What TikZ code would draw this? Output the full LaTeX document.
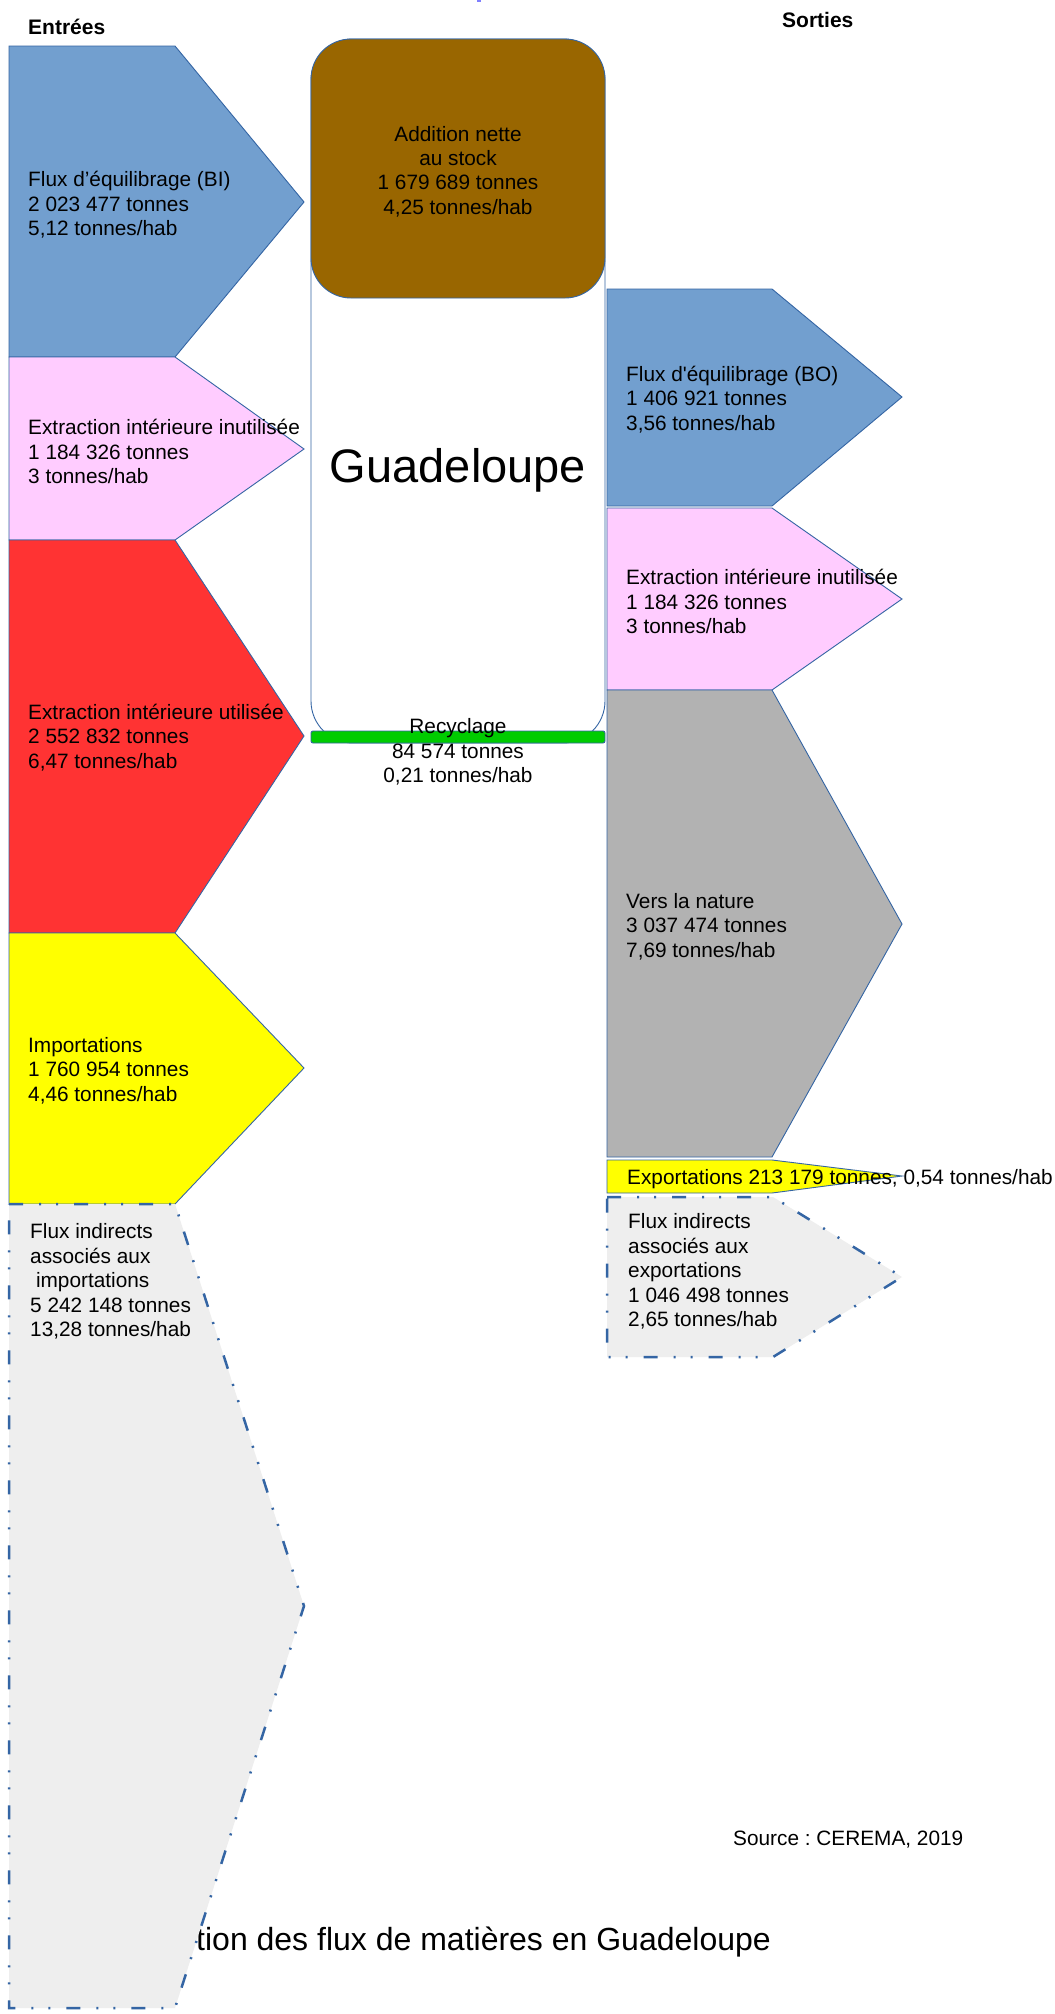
\documentclass[tikz,border=0pt]{standalone}
\usepackage{fontspec}
\setmainfont{Liberation Sans}
\newfontfamily\plainfont{Liberation Sans}
\frenchspacing
\definecolor{outl}{HTML}{3465A4}
\definecolor{flublue}{HTML}{729FCF}
\definecolor{flupink}{HTML}{FFCCFF}
\definecolor{flured}{HTML}{FF3333}
\definecolor{fluyel}{HTML}{FFFF00}
\definecolor{flugrey}{HTML}{B2B2B2}
\definecolor{indgrey}{HTML}{EEEEEE}
\definecolor{stockbrown}{HTML}{996600}
\definecolor{recgreen}{HTML}{00CC00}
\definecolor{topmark}{HTML}{7F7FFF}
\begin{document}
\frenchspacing
\begin{tikzpicture}[x=1pt,y=-1pt,
  shp/.style={draw=outl,line width=0.9pt,line join=miter},
  ind/.style={draw=outl,fill=indgrey,line width=2.5pt,
    dash pattern=on 14pt off 16pt on 2pt off 15pt on 2pt off 16pt},
  lbl/.style={anchor=west,align=left,inner sep=0pt,font=\fontsize{20.8}{24.4}\selectfont\frenchspacing},
  clbl/.style={align=center,inner sep=0pt,font=\fontsize{20.8}{24.4}\selectfont\frenchspacing},
  hdr/.style={anchor=west,inner sep=0pt,font=\fontsize{21}{25}\selectfont\bfseries},
]
\useasboundingbox (0,0) rectangle (1055,2014);
\fill[white] (0,0) rectangle (1055,2014);
\fill[topmark] (477,0) rectangle (481,1.5);

% title (partly hidden by the grey shape)
\node[anchor=east,inner sep=0pt,font=\fontsize{32}{38}\selectfont] (title) at (771,1942)
  {tion des flux de matières en Guadeloupe};

% ---------- inputs ----------
\path[shp,fill=flublue] (9,46) -- (175,46) -- (304,202) -- (175,357) -- (9,357) -- cycle;
\path[shp,fill=flupink] (9,357) -- (175,357) -- (304,449) -- (175,540) -- (9,540) -- cycle;
\path[shp,fill=flured] (9,540) -- (175,540) -- (304,736) -- (175,933) -- (9,933) -- cycle;
\path[shp,fill=fluyel] (9,933) -- (175,933) -- (304,1068) -- (175,1204) -- (9,1204) -- cycle;
\path[ind] (9,1204) -- (175,1204) -- (304,1606) -- (175,2008) -- (9,2008) -- cycle;

% ---------- centre ----------
\path[shp,fill=white,rounded corners=42pt] (311,39) rectangle (605,743);
\path[shp,fill=stockbrown,rounded corners=40pt] (311,39) rectangle (605,298);
\path[shp,fill=recgreen,rounded corners=2pt] (311,731) rectangle (605,743);

% ---------- outputs ----------
\path[shp,fill=flublue] (607,289) -- (772,289) -- (902,397) -- (772,506) -- (607,506) -- cycle;
\path[shp,fill=flupink] (607,508) -- (772,508) -- (902,599) -- (772,690) -- (607,690) -- cycle;
\path[shp,fill=flugrey] (607,690) -- (772,690) -- (902,924) -- (772,1157) -- (607,1157) -- cycle;
\path[shp,fill=fluyel] (607,1160) -- (772,1160) -- (902,1176) -- (772,1193) -- (607,1193) -- cycle;
\path[ind] (607,1197) -- (773,1197) -- (902,1277) -- (773,1357) -- (607,1357) -- cycle;

% ---------- texts ----------
\node[hdr] (entrees) at (28,27) {Entrées};
\node[hdr] (sorties) at (782,20) {Sorties};

\node[lbl] (tBI) at (28,205) {Flux d’équilibrage (BI)\\2 023 477 tonnes\\5,12 tonnes/hab};
\node[lbl] (tEIIin) at (28,451.5) {Extraction intérieure inutilisée\\1 184 326 tonnes\\3 tonnes/hab};
\node[lbl] (tEIU) at (28,737.5) {Extraction intérieure utilisée\\2 552 832 tonnes\\6,47 tonnes/hab};
\node[lbl] (tImp) at (28,1070.5) {Importations\\1 760 954 tonnes\\4,46 tonnes/hab};
\node[lbl] (tIndImp) at (30,1281.5) {Flux indirects\\associés aux\\\hspace*{0.28em}importations\\5 242 148 tonnes\\13,28 tonnes/hab};

\node[clbl] (tStock) at (458,171.5) {Addition nette\\au stock\\1 679 689 tonnes\\4,25 tonnes/hab};
\node[inner sep=0pt,font=\fontsize{47}{56}\selectfont] (tGuad) at (458,470) {Guadeloupe};
\node[clbl] (tRec) at (458,752) {Recyclage\\84 574 tonnes\\0,21 tonnes/hab};

\node[lbl] (tBO) at (626,399.5) {Flux d{\plainfont'}équilibrage (BO)\\1 406 921 tonnes\\3,56 tonnes/hab};
\node[lbl] (tEIIout) at (626,601.5) {Extraction intérieure inutilisée\\1 184 326 tonnes\\3 tonnes/hab};
\node[lbl] (tNat) at (626,926.5) {Vers la nature\\3 037 474 tonnes\\7,69 tonnes/hab};
\node[lbl] (tExp) at (627,1179) {Exportations 213 179 tonnes, 0,54 tonnes/hab};
\node[lbl] (tIndExp) at (628,1271.5) {Flux indirects\\associés aux\\exportations\\1 046 498 tonnes\\2,65 tonnes/hab};

\node[lbl] (tSrc) at (733,1840) {Source : CEREMA, 2019};
\end{tikzpicture}
\end{document}
